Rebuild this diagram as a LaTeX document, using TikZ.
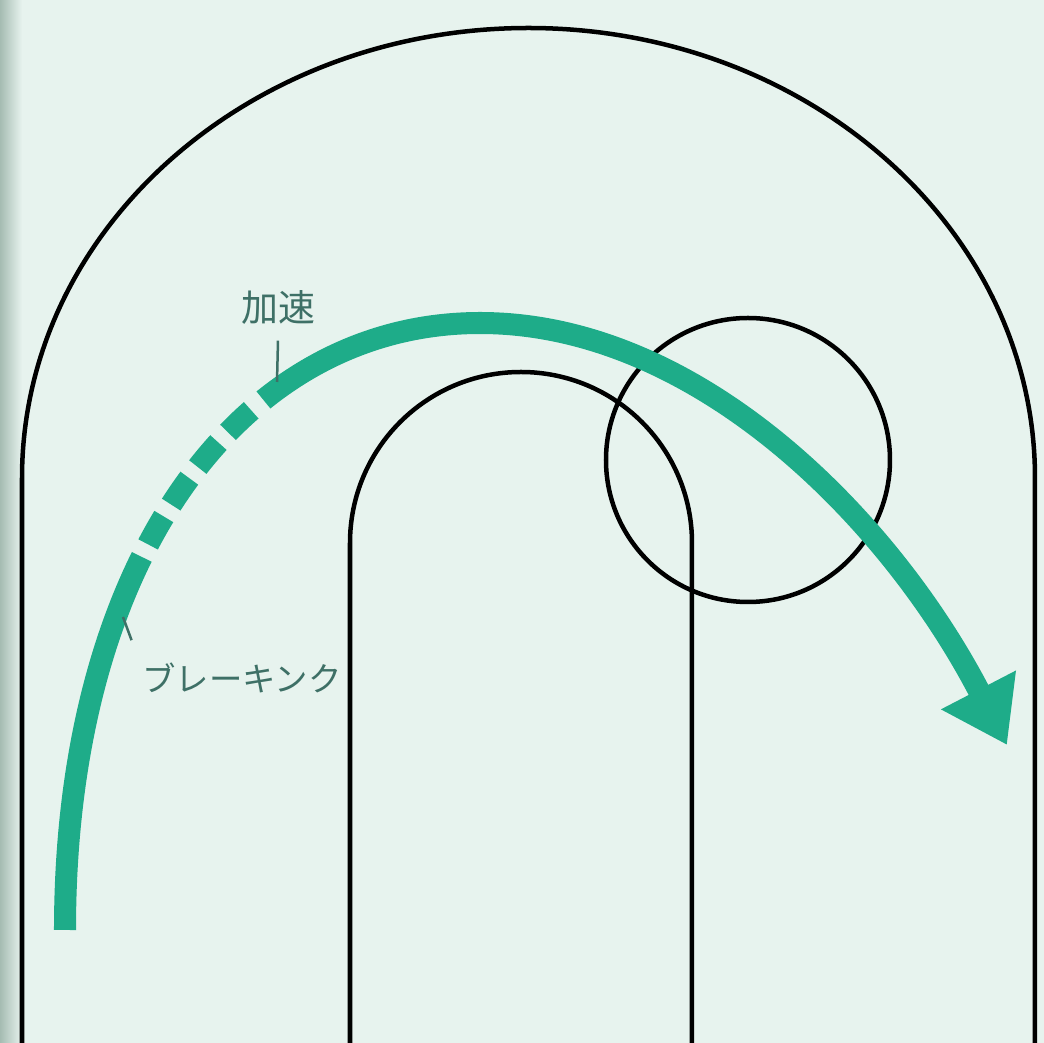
\documentclass[tikz,border=0pt]{standalone}
\usepackage{fontspec}
\usepackage{xcolor}
\usepackage{tikz}
\usetikzlibrary{arrows.meta}
\newfontfamily\jpfont{Noto Sans CJK JP}
\definecolor{bgmint}{RGB}{231,243,238}
\definecolor{scanedge}{RGB}{165,188,178}
\definecolor{lineteal}{RGB}{30,172,137}
\definecolor{labelink}{RGB}{62,112,102}

\begin{document}
\begin{tikzpicture}[x=0.01cm, y=-0.01cm,
  track/.style={draw=black, line width=0.045cm},
  route/.style={draw=lineteal, line width=0.22cm, -{Triangle[width=0.8cm,length=0.62cm]}},
  tick/.style={draw=labelink, line width=0.025cm},
  tag/.style={text=labelink, inner sep=0pt, font=\jpfont}]
\useasboundingbox (0,0) rectangle (1044,1043);
\fill[bgmint] (0,0) rectangle (1044,1043);
\shade[left color=scanedge, right color=bgmint] (0,0) rectangle (22,1043);
% track edges
\draw[track] (22,1043) -- (22,478) arc[start angle=180, end angle=360, x radius=506.5, y radius=450] -- (1035,1043);
\draw[track] (350,1043) -- (350,543) arc[start angle=180, end angle=360, radius=171] -- (692,1043);
\draw[track] (748,460) circle[radius=142];
% racing line
\coordinate (start) at (65,930);
\coordinate (apex) at (480,323);
\coordinate (exit) at (1007,745);
\draw[route, dash pattern=on 3.84cm off 0.14cm on 0.32cm off 0.14cm on 0.32cm off 0.14cm on 0.32cm off 0.14cm on 0.32cm off 0.16cm on 40cm]
  (start) .. controls (65,560) and (240,323) .. (apex)
          .. controls (700,323) and (892,523) .. (exit);
% labels
\node[tag, font=\jpfont\fontsize{10.5pt}{12pt}\selectfont] (accel) at (278,308) {加速};
\node[tag, font=\jpfont\fontsize{9.5pt}{11pt}\selectfont] (brake) at (242,678) {ブレーキンク};
\coordinate (acceltick) at (277,382);
\coordinate (braketick) at (123,617);
\draw[tick] ([yshift=-0.15cm]accel.south) -- (acceltick);
\draw[tick] (braketick) -- ([xshift=-0.1cm,yshift=0.22cm]brake.north west);
\end{tikzpicture}
\end{document}
